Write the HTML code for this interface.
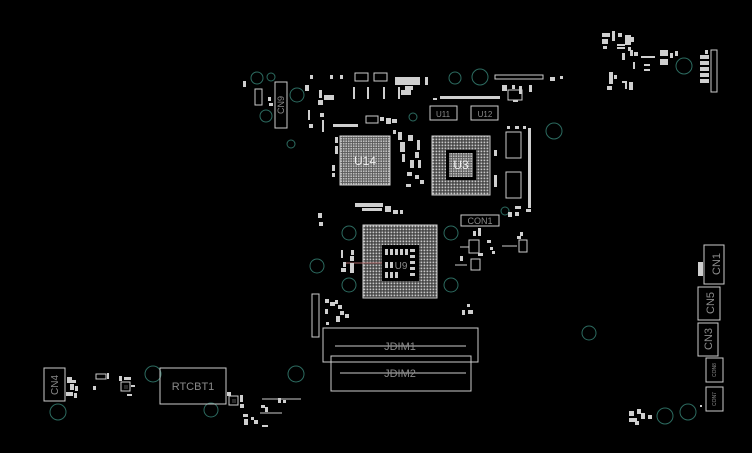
<!DOCTYPE html>
<html><head><meta charset="utf-8"><style>
html,body{margin:0;padding:0;background:#000;}
svg{display:block}
text{font-family:"Liberation Sans",sans-serif;fill:#8a8a8a}
</style></head><body>
<svg width="752" height="453" viewBox="0 0 752 453" xmlns="http://www.w3.org/2000/svg">
<defs>
<pattern id="g" width="3" height="3" patternUnits="userSpaceOnUse"><rect width="3" height="3" fill="#3a3a3a"/><rect x="0.5" y="0.5" width="1.8" height="1.8" fill="#c8c8c8"/></pattern>
<pattern id="g2" width="2.5" height="2.5" patternUnits="userSpaceOnUse"><rect width="2.5" height="2.5" fill="#5a5a5a"/><rect x="0.4" y="0.4" width="1.6" height="1.6" fill="#bdbdbd"/></pattern>
</defs>
<rect width="752" height="453" fill="#000"/>
<g fill="none" stroke="#2c6b60" stroke-width="1">
<circle cx="257" cy="78" r="6"/><circle cx="271" cy="77" r="4"/><circle cx="297" cy="95" r="7"/><circle cx="266" cy="116" r="6"/><circle cx="291" cy="144" r="4"/>
<circle cx="455" cy="78" r="6"/><circle cx="480" cy="77" r="8"/><circle cx="554" cy="131" r="8"/><circle cx="413" cy="117" r="4"/>
<circle cx="349" cy="233" r="7"/><circle cx="317" cy="266" r="7"/><circle cx="349" cy="285" r="7"/><circle cx="451" cy="233" r="7"/><circle cx="451" cy="285" r="7"/><circle cx="505" cy="211" r="4"/>
<circle cx="589" cy="333" r="7"/><circle cx="684" cy="66" r="8"/><circle cx="296" cy="374" r="8"/><circle cx="153" cy="374" r="8"/><circle cx="58" cy="412" r="8"/><circle cx="211" cy="410" r="7"/><circle cx="665" cy="416" r="8"/><circle cx="688" cy="412" r="8"/>
</g>
<rect x="340" y="136" width="50" height="49" fill="url(#g2)" stroke="#ccc"/>
<text x="365" y="165" font-size="12" text-anchor="middle" style="fill:#eee">U14</text>
<rect x="432" y="136" width="58" height="59" fill="url(#g)" stroke="#ccc"/>
<rect x="446" y="150" width="30" height="30" fill="#000"/>
<rect x="449" y="153" width="24" height="24" fill="url(#g2)"/>
<text x="461" y="169" font-size="12" text-anchor="middle" style="fill:#eee">U3</text>
<rect x="363" y="225" width="74" height="73" fill="url(#g)" stroke="#ccc"/>
<rect x="382" y="245" width="37" height="36" fill="#000"/>
<g fill="#ccc"><rect x="385" y="249" width="3" height="6"/><rect x="390" y="249" width="3" height="6"/><rect x="395" y="249" width="3" height="6"/><rect x="400" y="249" width="3" height="6"/><rect x="405" y="249" width="3" height="6"/><rect x="410" y="249" width="5" height="3"/><rect x="410" y="255" width="5" height="3"/><rect x="410" y="261" width="5" height="3"/><rect x="410" y="267" width="5" height="3"/><rect x="410" y="273" width="5" height="3"/><rect x="385" y="262" width="3" height="6"/><rect x="390" y="262" width="3" height="6"/><rect x="385" y="272" width="3" height="6"/><rect x="390" y="272" width="3" height="6"/><rect x="395" y="272" width="3" height="6"/></g>
<text x="401" y="269" font-size="10" text-anchor="middle">U9</text>
<line x1="345" y1="263" x2="382" y2="263" stroke="#a66" stroke-width="1"/>
<g fill="none" stroke="#ccc" stroke-width="1">
<rect x="430" y="106" width="27" height="14"/><rect x="471" y="106" width="27" height="14"/>
<rect x="506" y="132" width="15" height="26"/><rect x="506" y="172" width="15" height="26"/>
<rect x="461" y="215" width="38" height="11"/>
<rect x="323" y="328" width="155" height="34"/><rect x="331" y="356" width="140" height="35"/>
<rect x="160" y="368" width="66" height="36"/>
<rect x="44" y="368" width="21" height="33"/>
<rect x="704" y="245" width="20" height="39"/><rect x="698" y="287" width="22" height="33"/><rect x="698" y="323" width="20" height="33"/><rect x="706" y="358" width="17" height="24"/><rect x="706" y="387" width="17" height="24"/>
<rect x="275" y="82" width="12" height="46"/><rect x="255" y="89" width="7" height="16"/>
<rect x="711" y="50" width="6" height="42"/>
<rect x="495" y="75" width="48" height="4"/>
<rect x="312" y="294" width="7" height="43"/>
<rect x="508" y="90" width="14" height="10"/>
<rect x="355" y="73" width="13" height="8"/><rect x="374" y="73" width="13" height="8"/>
<rect x="366" y="116" width="12" height="7"/>
<rect x="469" y="240" width="10" height="13"/><rect x="471" y="259" width="9" height="11"/><rect x="519" y="240" width="8" height="12"/>
<rect x="229" y="396" width="9" height="9"/><rect x="96" y="374" width="10" height="5"/>
<rect x="121" y="382" width="9" height="9"/>
</g>
<g fill="#2a2a2a"><rect x="232" y="399" width="4" height="4"/><rect x="124" y="385" width="4" height="4"/></g>
<g stroke="#ccc" stroke-width="1"><line x1="335" y1="346" x2="466" y2="346"/><line x1="340" y1="373" x2="466" y2="373"/><line x1="460" y1="247" x2="469" y2="247"/><line x1="502" y1="246" x2="517" y2="246"/><line x1="455" y1="265" x2="467" y2="265"/><line x1="260" y1="413" x2="282" y2="413"/><line x1="262" y1="399" x2="301" y2="399"/></g>
<text x="400" y="350" font-size="11" text-anchor="middle">JDIM1</text>
<text x="400" y="377" font-size="11" text-anchor="middle">JDIM2</text>
<text x="193" y="390" font-size="11" text-anchor="middle">RTCBT1</text>
<text x="480" y="224" font-size="9" text-anchor="middle">CON1</text>
<text x="443" y="117" font-size="8" text-anchor="middle">U11</text>
<text x="485" y="117" font-size="8" text-anchor="middle">U12</text>
<text font-size="11" transform="translate(720,264) rotate(-90)" text-anchor="middle">CN1</text>
<text font-size="11" transform="translate(714,303) rotate(-90)" text-anchor="middle">CN5</text>
<text font-size="11" transform="translate(712,339) rotate(-90)" text-anchor="middle">CN3</text>
<text font-size="5" transform="translate(716,370) rotate(-90)" text-anchor="middle">CON8</text>
<text font-size="5" transform="translate(716,399) rotate(-90)" text-anchor="middle">CON7</text>
<text font-size="9" transform="translate(284,105) rotate(-90)" text-anchor="middle">CN9</text>
<text font-size="10" transform="translate(58,385) rotate(-90)" text-anchor="middle">CN4</text>
<g fill="#cfcfcf">
<rect x="243" y="81" width="3" height="6"/><rect x="268" y="97" width="3" height="4"/><rect x="269" y="103" width="4" height="3"/>
<rect x="305" y="85" width="4" height="6"/><rect x="310" y="75" width="3" height="4"/><rect x="319" y="90" width="3" height="8"/><rect x="318" y="100" width="5" height="5"/><rect x="324" y="95" width="10" height="5"/><rect x="330" y="75" width="3" height="4"/><rect x="340" y="75" width="3" height="4"/>
<rect x="353" y="87" width="2" height="12"/><rect x="367" y="87" width="2" height="12"/><rect x="383" y="87" width="2" height="12"/><rect x="398" y="87" width="2" height="12"/>
<rect x="395" y="77" width="25" height="8"/><rect x="401" y="90" width="10" height="5"/><rect x="425" y="77" width="3" height="8"/><rect x="405" y="86" width="8" height="4"/>
<rect x="440" y="96" width="60" height="3"/><rect x="433" y="98" width="4" height="2"/>
<rect x="502" y="85" width="5" height="6"/><rect x="512" y="85" width="3" height="4"/><rect x="519" y="86" width="3" height="8"/><rect x="529" y="85" width="3" height="7"/><rect x="513" y="100" width="5" height="2"/>
<rect x="550" y="77" width="5" height="4"/><rect x="560" y="76" width="3" height="3"/>
<rect x="308" y="110" width="2" height="10"/><rect x="320" y="113" width="4" height="4"/><rect x="333" y="124" width="25" height="3"/><rect x="309" y="124" width="4" height="4"/><rect x="322" y="120" width="2" height="12"/>
<rect x="380" y="117" width="4" height="4"/><rect x="386" y="118" width="5" height="6"/><rect x="392" y="119" width="5" height="4"/><rect x="393" y="130" width="3" height="4"/><rect x="398" y="132" width="4" height="8"/><rect x="400" y="142" width="5" height="10"/><rect x="402" y="154" width="3" height="8"/><rect x="408" y="135" width="5" height="6"/>
<rect x="335" y="137" width="3" height="6"/><rect x="335" y="146" width="3" height="8"/><rect x="332" y="165" width="3" height="6"/><rect x="332" y="173" width="3" height="4"/>
<rect x="417" y="140" width="3" height="10"/><rect x="415" y="152" width="4" height="6"/><rect x="410" y="160" width="4" height="8"/><rect x="418" y="160" width="3" height="8"/><rect x="407" y="172" width="5" height="4"/><rect x="415" y="175" width="4" height="4"/><rect x="420" y="180" width="4" height="4"/><rect x="406" y="184" width="5" height="3"/>
<rect x="494" y="150" width="3" height="6"/><rect x="494" y="175" width="3" height="12"/><rect x="507" y="126" width="3" height="3"/><rect x="515" y="126" width="4" height="3"/><rect x="523" y="126" width="3" height="3"/>
<rect x="528" y="128" width="3" height="80"/><rect x="526" y="209" width="5" height="3"/><rect x="515" y="206" width="6" height="3"/><rect x="508" y="212" width="4" height="5"/><rect x="515" y="212" width="4" height="4"/>
<rect x="355" y="203" width="28" height="4"/><rect x="362" y="208" width="20" height="3"/><rect x="385" y="206" width="6" height="6"/><rect x="393" y="210" width="5" height="4"/><rect x="400" y="210" width="3" height="4"/>
<rect x="318" y="213" width="4" height="5"/><rect x="319" y="222" width="4" height="4"/>
<rect x="341" y="250" width="2" height="8"/><rect x="351" y="250" width="3" height="5"/><rect x="350" y="256" width="4" height="5"/><rect x="343" y="262" width="3" height="5"/><rect x="341" y="268" width="5" height="4"/><rect x="350" y="263" width="4" height="10"/>
<rect x="325" y="299" width="4" height="4"/><rect x="330" y="302" width="5" height="4"/><rect x="335" y="300" width="3" height="4"/><rect x="338" y="305" width="4" height="4"/><rect x="340" y="311" width="4" height="4"/><rect x="345" y="314" width="4" height="4"/><rect x="336" y="316" width="4" height="6"/><rect x="326" y="322" width="3" height="3"/><rect x="325" y="309" width="3" height="5"/>
<rect x="467" y="304" width="3" height="3"/><rect x="462" y="310" width="3" height="5"/><rect x="468" y="310" width="5" height="4"/>
<rect x="473" y="231" width="3" height="5"/><rect x="478" y="228" width="3" height="8"/><rect x="487" y="240" width="4" height="3"/><rect x="490" y="247" width="3" height="3"/><rect x="492" y="251" width="3" height="3"/><rect x="460" y="256" width="3" height="5"/><rect x="478" y="253" width="5" height="3"/><rect x="520" y="232" width="3" height="4"/><rect x="517" y="236" width="4" height="3"/>
<rect x="602" y="33" width="8" height="4"/><rect x="602" y="39" width="6" height="5"/><rect x="612" y="31" width="3" height="10"/><rect x="618" y="33" width="4" height="4"/><rect x="603" y="46" width="4" height="3"/><rect x="617" y="44" width="8" height="2"/><rect x="617" y="47" width="8" height="2"/><rect x="625" y="35" width="6" height="10"/><rect x="631" y="37" width="3" height="5"/><rect x="628" y="47" width="3" height="4"/>
<rect x="622" y="53" width="3" height="7"/><rect x="630" y="50" width="3" height="6"/><rect x="634" y="52" width="4" height="4"/><rect x="633" y="62" width="2" height="7"/><rect x="641" y="56" width="14" height="2"/><rect x="644" y="64" width="6" height="2"/><rect x="644" y="69" width="6" height="2"/><rect x="660" y="50" width="8" height="6"/><rect x="660" y="59" width="8" height="6"/><rect x="670" y="53" width="3" height="5"/><rect x="675" y="51" width="3" height="5"/>
<rect x="700" y="55" width="9" height="4"/><rect x="700" y="61" width="9" height="4"/><rect x="700" y="67" width="9" height="4"/><rect x="700" y="73" width="9" height="4"/><rect x="700" y="79" width="9" height="4"/><rect x="705" y="50" width="3" height="4"/>
<rect x="609" y="72" width="4" height="12"/><rect x="607" y="86" width="5" height="4"/><rect x="614" y="75" width="3" height="4"/><rect x="622" y="81" width="4" height="2"/><rect x="625" y="81" width="2" height="8"/><rect x="629" y="82" width="4" height="8"/>
<rect x="698" y="262" width="5" height="14"/>
<rect x="629" y="411" width="5" height="5"/><rect x="629" y="418" width="8" height="4"/><rect x="637" y="409" width="4" height="5"/><rect x="641" y="413" width="4" height="6"/><rect x="635" y="421" width="4" height="4"/><rect x="648" y="415" width="4" height="4"/><rect x="700" y="405" width="2" height="2"/>
<rect x="67" y="377" width="5" height="6"/><rect x="72" y="380" width="4" height="3"/><rect x="70" y="384" width="4" height="6"/><rect x="75" y="386" width="3" height="5"/><rect x="66" y="392" width="7" height="4"/><rect x="74" y="393" width="3" height="5"/>
<rect x="107" y="373" width="2" height="6"/><rect x="93" y="386" width="3" height="4"/><rect x="119" y="376" width="3" height="5"/><rect x="124" y="377" width="7" height="3"/><rect x="131" y="385" width="4" height="2"/><rect x="127" y="394" width="5" height="2"/>
<rect x="227" y="392" width="4" height="4"/><rect x="240" y="395" width="3" height="7"/><rect x="240" y="404" width="4" height="4"/><rect x="243" y="414" width="5" height="3"/><rect x="244" y="419" width="4" height="6"/><rect x="251" y="417" width="3" height="3"/><rect x="254" y="420" width="4" height="4"/><rect x="262" y="425" width="6" height="2"/><rect x="278" y="398" width="3" height="5"/><rect x="283" y="400" width="3" height="3"/><rect x="261" y="405" width="4" height="3"/><rect x="265" y="407" width="3" height="5"/>
</g>
</svg>
</body></html>
